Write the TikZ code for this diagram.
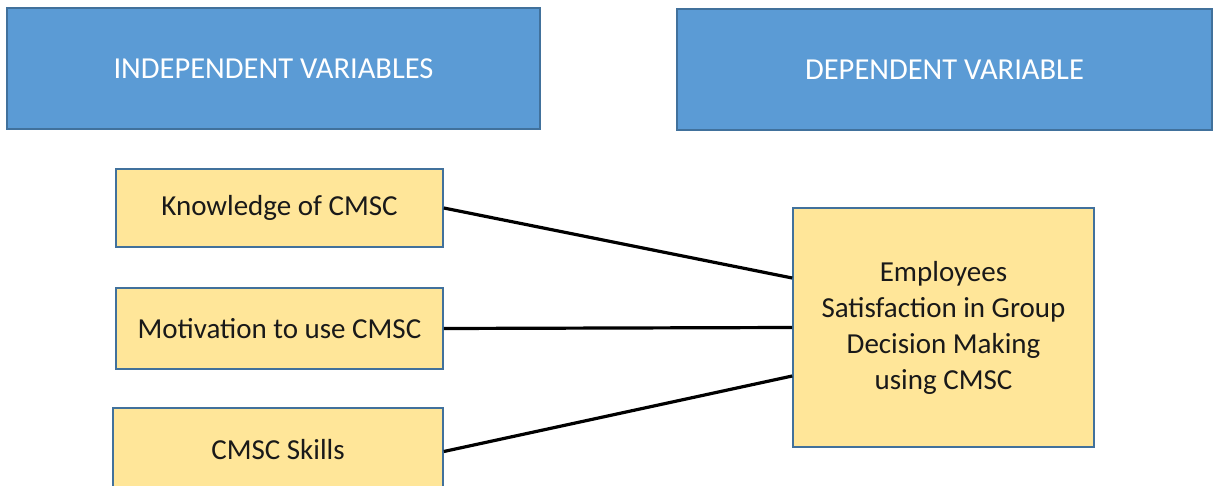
\documentclass[tikz,border=0pt]{standalone}
\usepackage{fontspec}
\setmainfont{Carlito}
\definecolor{hdrfill}{HTML}{5B9BD5}
\definecolor{boxedge}{HTML}{41719C}
\definecolor{varfill}{HTML}{FFE699}
\begin{document}
\begin{tikzpicture}[x=1pt,y=-1pt,
  header/.style={draw=boxedge,line width=2pt,fill=hdrfill,text=white,font=\fontsize{30.5}{36}\selectfont,inner sep=0pt},
  varbox/.style={draw=boxedge,line width=1.6pt,fill=varfill,text=black!90,font=\fontsize{29}{36}\selectfont,inner sep=0pt,align=center},
  link/.style={line width=3.2pt,black}]
\useasboundingbox (0,0) rectangle (1215,486);
\begin{scope}
\clip (0,0) rectangle (1215,486);
\node[header,minimum width=533pt,minimum height=121pt] (iv) at (273.5,68.5) {INDEPENDENT VARIABLES};
\node[header,minimum width=535pt,minimum height=121pt] (dv) at (944.5,69.5) {DEPENDENT VARIABLE};
\node[varbox,minimum width=327pt,minimum height=78pt] (k) at (279.5,208) {Knowledge of CMSC};
\node[varbox,minimum width=327pt,minimum height=81pt] (m) at (279.5,328.5) {Motivation to use CMSC};
\node[varbox,minimum width=330pt,minimum height=84pt] (s) at (278,450) {CMSC Skills};
\node[varbox,minimum width=301pt,minimum height=239pt] (e) at (943.5,327.5) {Employees\\Satisfaction in Group\\Decision Making\\using CMSC};
\draw[link] (k.east) -- ([yshift=49.5pt]e.west);
\draw[link] (m.east) -- (e.west);
\draw[link] ([yshift=-1.5pt]s.east) -- ([yshift=-48.5pt]e.west);
\end{scope}
\end{tikzpicture}
\end{document}
